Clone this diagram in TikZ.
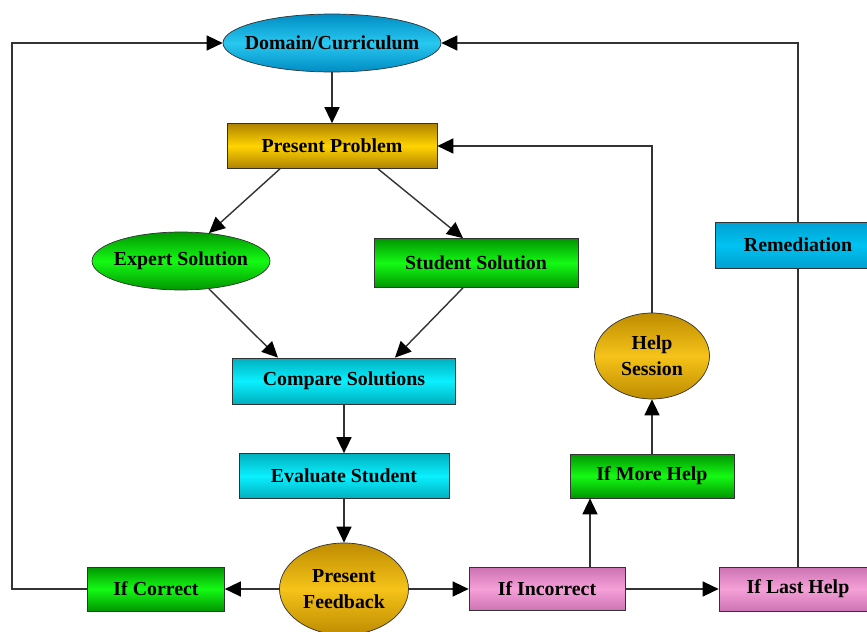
\documentclass[tikz,border=0pt]{standalone}
\usepackage{fontspec}
\setmainfont{Liberation Serif}
\usepackage{tikz}
\usetikzlibrary{shapes,calc,positioning,arrows.meta}

\definecolor{blueEdge}{RGB}{0,140,195}
\definecolor{blueMid}{RGB}{40,200,240}
\definecolor{goldEdge}{RGB}{175,130,0}
\definecolor{goldMid}{RGB}{255,212,0}
\definecolor{greenEdge}{RGB}{0,150,0}
\definecolor{greenMid}{RGB}{20,250,20}
\definecolor{cyanEdge}{RGB}{0,175,190}
\definecolor{cyanMid}{RGB}{10,240,255}
\definecolor{ambEdge}{RGB}{190,140,0}
\definecolor{ambMid}{RGB}{245,195,25}
\definecolor{pinkEdge}{RGB}{205,115,180}
\definecolor{pinkMid}{RGB}{245,160,215}
\definecolor{remEdge}{RGB}{0,160,210}
\definecolor{remMid}{RGB}{0,195,240}

\begin{document}
\begin{tikzpicture}[x=0.02cm,y=-0.02cm,
    font=\bfseries\fontsize{11.3}{15}\selectfont,
    box/.style={draw=black!80,thin,inner sep=0pt},
    oval/.style={box,ellipse},
    blueish/.style={top color=blueEdge,bottom color=blueEdge,middle color=blueMid},
    goldish/.style={top color=goldEdge,bottom color=goldEdge,middle color=goldMid},
    greenish/.style={top color=greenEdge,bottom color=greenEdge,middle color=greenMid},
    cyanish/.style={top color=cyanEdge,bottom color=cyanEdge,middle color=cyanMid},
    amberish/.style={top color=ambEdge,bottom color=ambEdge,middle color=ambMid},
    pinkish/.style={top color=pinkEdge,bottom color=pinkEdge,middle color=pinkMid},
    remish/.style={top color=remEdge,bottom color=remEdge,middle color=remMid},
    link/.style={draw=black!80,line width=0.8pt,-{Triangle[length=0.32cm,width=0.3cm,color=black]}},
    plain/.style={draw=black!80,line width=0.8pt}]
    \fill[white] (0,0) rectangle (867,632);
    \useasboundingbox (0,0) rectangle (867,632);

    \node[oval,blueish,minimum width=4.36cm,minimum height=1.16cm,label=center:Domain/Curriculum] (domain) at (332,43) {};
    \node[box,goldish,minimum width=4.2cm,minimum height=0.9cm] (problem) at (332,146) {Present Problem};
    \node[oval,greenish,minimum width=3.56cm,minimum height=1.16cm,label=center:Expert Solution] (expert) at (181,261) {};
    \node[box,greenish,minimum width=4.08cm,minimum height=0.98cm] (student) at (476,263) {Student Solution};
    \node[box,cyanish,minimum width=4.46cm,minimum height=0.92cm] (compare) at (344,381) {Compare Solutions};
    \node[box,cyanish,minimum width=4.2cm,minimum height=0.9cm] (evaluate) at (344,476) {Evaluate Student};
    \node[oval,amberish,minimum width=2.58cm,minimum height=1.84cm,label={[align=center]center:Present\\Feedback}] (feedback) at (344,589) {};
    \node[box,greenish,minimum width=2.74cm,minimum height=0.88cm] (correct) at (156,589) {If Correct};
    \node[box,pinkish,minimum width=3.12cm,minimum height=0.86cm] (incorr) at (547,589) {If Incorrect};
    \node[box,pinkish,minimum width=3.16cm,minimum height=0.88cm] (lasthelp) at (798,589) {If Last Help};
    \node[box,greenish,minimum width=3.28cm,minimum height=0.88cm] (morehelp) at (652,476) {If More Help};
    \node[oval,amberish,minimum width=2.3cm,minimum height=1.72cm,label={[align=center]center:Help\\Session}] (help) at (652,356) {};
    \node[box,remish,minimum width=3.32cm,minimum height=0.92cm] (remed) at (798,245) {Remediation};
    \coordinate (lft) at (12,0);

    \draw[link] (domain) -- (problem);
    \draw[link] ($(problem.south)+(-52,0)$) -- (expert.45);
    \draw[link] ($(problem.south)+(46,0)$) -- ($(student.north)+(-13,0)$);
    \draw[link] (expert.-45) -- ($(compare.north)+(-66,0)$);
    \draw[link] ($(student.south)+(-13,0)$) -- ($(compare.north)+(51,0)$);
    \draw[link] (compare) -- (evaluate);
    \draw[link] (evaluate) -- (feedback);
    \draw[link] (feedback) -- (correct);
    \draw[link] (feedback) -- (incorr);
    \draw[link] (incorr) -- (lasthelp);
    \draw[link] ($(incorr.north)+(43,0)$) -- ($(morehelp.south)+(-62,0)$);
    \draw[link] (morehelp) -- (help);
    \draw[link] (help.north) |- (problem.east);
    \draw[plain] (lasthelp) -- (remed);
    \draw[link] (remed.north) |- (domain.east);
    \draw[link] (correct.west) -- (correct.west -| lft) |- (domain.west);
\end{tikzpicture}
\end{document}
